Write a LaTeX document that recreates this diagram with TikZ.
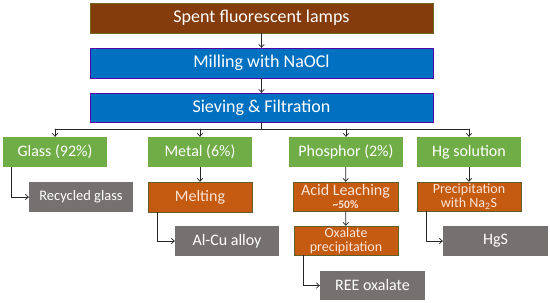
\documentclass[tikz,border=0pt]{standalone}
\usepackage{fontspec}
\setmainfont{Carlito}
\usetikzlibrary{arrows.meta}
\definecolor{lampbrown}{HTML}{843C0C}
\definecolor{stepblue}{HTML}{0070C0}
\definecolor{fracgreen}{HTML}{70AD47}
\definecolor{procorange}{HTML}{C55A11}
\definecolor{prodgray}{HTML}{767171}
\definecolor{peach}{HTML}{FBE5D6}

\begin{document}
\begin{tikzpicture}[x=1pt,y=-1pt,>={Straight Barb[length=3pt,width=5.5pt]},line cap=round,
  box/.style={text=white,inner sep=0pt,minimum height=30pt,align=center,font=\fontsize{16}{17}\selectfont},
  headbox/.style={box,minimum width=343pt,font=\fontsize{18}{20}\selectfont},
  fracbox/.style={box,fill=fracgreen,minimum width=104pt},
  procbox/.style={box,fill=procorange,draw=olive!60!black,line width=0.5pt,text=peach,minimum width=104pt,minimum height=29pt},
  prodbox/.style={box,fill=prodgray,minimum width=104pt},
  conn/.style={black!85,line width=0.7pt}]
\useasboundingbox (0,0) rectangle (550,303);
% main line
\node[headbox,fill=lampbrown,draw=olive!70!black,line width=0.5pt] (lamps) at (261.5,18) {Spent fluorescent lamps};
\node[headbox,fill=stepblue,draw=blue!55!purple,line width=0.4pt] (mill) at (261.5,63) {Milling with NaOCl};
\node[headbox,fill=stepblue,draw=blue!55!purple,line width=0.4pt,minimum height=29pt] (sieve) at (261.5,107.5) {Sieving \& Filtration};
\coordinate (split) at (261.5,129);
% fractions
\node[fracbox] (glass) at (55,152) {Glass (92\%)};
\node[fracbox] (metal) at (200,152) {Metal (6\%)};
\node[fracbox,minimum width=114pt] (phos) at (346,152) {Phosphor (2\%)};
\node[fracbox] (hgsol) at (469,152) {Hg solution};
% processing
\node[prodbox,font=\fontsize{14.5}{16}\selectfont] (recyc) at (81,197) {Recycled glass};
\node[procbox,minimum height=30pt] (melt) at (200,197) {Melting};
\node[procbox,minimum width=105pt] (acid) at (345.5,196.5) {Acid Leaching\\[-4pt]{\fontsize{11.5}{12}\selectfont\bfseries\textasciitilde50\%}};
\node[procbox,font=\fontsize{14}{14}\selectfont] (hgppt) at (469,196.5) {Precipitation\\with Na\textsubscript{2}S};
\node[procbox,font=\fontsize{14}{14}\selectfont] (oxal) at (346,240.5) {Oxalate\\precipitation};
% products
\node[prodbox] (alcu) at (227,241) {Al-Cu alloy};
\node[prodbox,minimum width=105pt] (hgs) at (495.5,241) {HgS};
\node[prodbox,minimum width=105pt,minimum height=29pt] (ree) at (372.5,285.5) {REE oxalate};
% connectors
\draw[conn,->] (lamps) -- (mill);
\draw[conn,->] (mill) -- (sieve);
\draw[conn] (sieve) -- (split);
\draw[conn] (glass.north |- split) -- (hgsol.north |- split);
\foreach \n in {glass,metal,phos,hgsol}
  \draw[conn,->] (\n.north |- split) -- (\n.north);
\draw[conn,->] (metal) -- (melt);
\draw[conn,->] (phos) -- (acid);
\draw[conn,->] (acid) -- (oxal);
\draw[conn,->] (hgsol) -- (hgppt);
\draw[conn,->] ([xshift=9pt]glass.south west) |- (recyc.west);
\draw[conn,->] ([xshift=10pt]melt.south west) |- (alcu.west);
\draw[conn,->] ([xshift=10pt]oxal.south west) |- (ree.west);
\draw[conn,->] ([xshift=10pt]hgppt.south west) |- (hgs.west);
\end{tikzpicture}
\end{document}
